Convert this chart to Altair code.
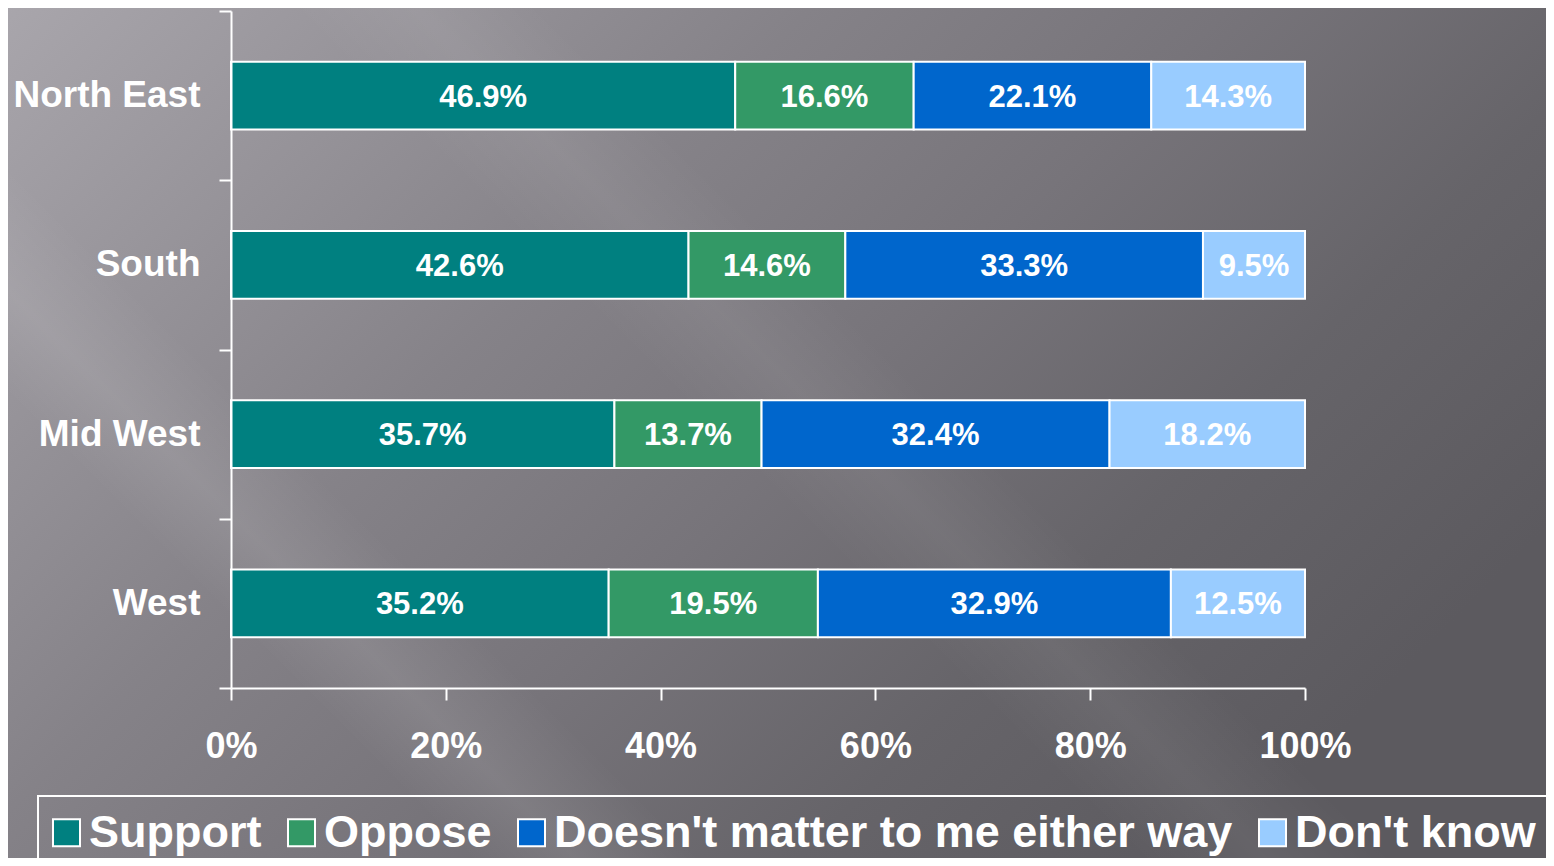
import altair as alt
import pandas as pd

regions = ["North East", "South", "Mid West", "West"]
responses = ["Support", "Oppose", "Doesn't matter to me either way", "Don't know"]
support = [46.9, 42.6, 35.7, 35.2]
oppose = [16.6, 14.6, 13.7, 19.5]
doesnt_matter = [22.1, 33.3, 32.4, 32.9]
dont_know = [14.3, 9.5, 18.2, 12.5]
colors = ["#008080", "#339966", "#0066CC", "#99CCFF"]
x_ticks = [0, 0.2, 0.4, 0.6, 0.8, 1.0]

series = [support, oppose, doesnt_matter, dont_know]
rows = []
for i, r in enumerate(regions):
    for j, resp in enumerate(responses):
        rows.append({"region": r, "response": resp, "order": j, "value": series[j][i]})
df = pd.DataFrame(rows)

FONT = "Liberation Sans"

y_enc = alt.Y(
    "region:N",
    sort=regions,
    title=None,
    scale=alt.Scale(paddingInner=0, paddingOuter=0),
    axis=alt.Axis(
        domainColor="white", domainWidth=2,
        tickColor="white", tickWidth=2, tickSize=12, tickBand="extent",
        labelColor="white", labelFont=FONT, labelFontSize=37, labelFontWeight="bold",
        labelPadding=19, labelLimit=0, grid=False, zindex=2,
    ),
)

x_axis = alt.Axis(
    format="%", values=x_ticks, grid=False,
    domainColor="white", domainWidth=2,
    tickColor="white", tickWidth=2, tickSize=12,
    labelColor="white", labelFont=FONT, labelFontSize=36, labelFontWeight="bold",
    labelPadding=29, labelFlush=False, labelOverlap=False, zindex=2,
)

one = pd.DataFrame({"a": [0]})

bg = alt.Chart(one).mark_rect(
    fill=alt.Gradient(
        gradient="linear",
        x1=0, y1=0, x2=1, y2=0.57,
        stops=[
            alt.GradientStop(offset=0, color="#aaa7ad"),
            alt.GradientStop(offset=0.4, color="#858288"),
            alt.GradientStop(offset=0.6, color="#77747a"),
            alt.GradientStop(offset=0.8, color="#666469"),
            alt.GradientStop(offset=1, color="#5c5a5f"),
        ],
    )
).encode(
    x=alt.value(-240), x2=alt.value(1340), y=alt.value(-20), y2=alt.value(880)
)

streaks = alt.Chart(one).mark_rect(
    fill=alt.Gradient(
        gradient="linear",
        x1=0, y1=0.57, x2=1, y2=0,
        stops=[
            alt.GradientStop(offset=0, color="rgba(255,255,255,0)"),
            alt.GradientStop(offset=0.06, color="rgba(255,255,255,0)"),
            alt.GradientStop(offset=0.11, color="rgba(255,255,255,0.09)"),
            alt.GradientStop(offset=0.17, color="rgba(255,255,255,0)"),
            alt.GradientStop(offset=0.38, color="rgba(255,255,255,0)"),
            alt.GradientStop(offset=0.44, color="rgba(255,255,255,0.06)"),
            alt.GradientStop(offset=0.5, color="rgba(255,255,255,0)"),
            alt.GradientStop(offset=1, color="rgba(255,255,255,0)"),
        ],
    )
).encode(
    x=alt.value(-240), x2=alt.value(1340), y=alt.value(-20), y2=alt.value(880)
)

bars = alt.Chart(df).mark_bar(
    height={"band": 0.4}, stroke="white", strokeWidth=2
).encode(
    x=alt.X("value:Q", stack="normalize", title=None,
            scale=alt.Scale(domain=[0, 1], nice=False), axis=x_axis),
    y=y_enc,
    color=alt.Color(
        "response:N",
        scale=alt.Scale(domain=responses, range=colors),
        legend=alt.Legend(
            orient="none", legendX=-193, legendY=785,
            direction="horizontal", columns=4, title=None,
            labelFont=FONT, labelFontSize=45, labelFontWeight="bold",
            labelColor="white", labelLimit=0, labelOffset=0,
            symbolType="square", symbolSize=729, symbolOpacity=1,
            symbolStrokeColor="white", symbolStrokeWidth=2, symbolOffset=-8,
            columnPadding=22, padding=14, strokeColor="white", zindex=2,
        ),
    ),
    order=alt.Order("order:Q"),
)

labels = alt.Chart(df).transform_joinaggregate(
    total="sum(value)", groupby=["region"]
).transform_window(
    cum="sum(value)", groupby=["region"],
    sort=[alt.SortField("order")], frame=[None, 0]
).transform_calculate(
    mid="(datum.cum - datum.value / 2) / datum.total",
    label="format(datum.value, '.1f') + '%'",
).mark_text(
    font=FONT, fontSize=31, fontWeight="bold", color="white",
    baseline="middle", align="center", dy=2,
).encode(
    x=alt.X("mid:Q", title=None),
    y=y_enc,
    text="label:N",
)

chart = alt.layer(bg, streaks, bars, labels).properties(
    width=1074, height=677,
    autosize=alt.AutoSizeParams(type="none"),
    padding={"left": 223, "top": 3, "right": 241, "bottom": 170},
    background="#78757b",
).configure_view(stroke=None).configure_legend(strokeWidth=2)

chart.save("out.html", embed_options={"renderer": "svg", "actions": False})
